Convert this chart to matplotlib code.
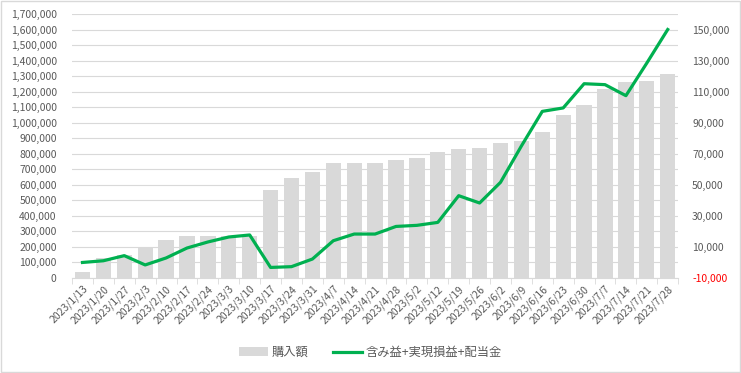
import numpy as np
import matplotlib
matplotlib.use("Agg")
import matplotlib.pyplot as plt
from matplotlib.ticker import FuncFormatter, FixedLocator

plt.rcParams['font.family'] = ['Noto Sans CJK JP', 'DejaVu Sans']

dates = ["2023/1/13", "2023/1/20", "2023/1/27", "2023/2/3", "2023/2/10", "2023/2/17",
         "2023/2/24", "2023/3/3", "2023/3/10", "2023/3/17", "2023/3/24", "2023/3/31",
         "2023/4/7", "2023/4/14", "2023/4/21", "2023/4/28", "2023/5/2", "2023/5/12",
         "2023/5/19", "2023/5/26", "2023/6/2", "2023/6/9", "2023/6/16", "2023/6/23",
         "2023/6/30", "2023/7/7", "2023/7/14", "2023/7/21", "2023/7/28"]

# 購入額 (left axis)
purchase = [40000, 129000, 145000, 200000, 247000, 272000, 272000, 268000, 272000,
            567000, 644000, 683000, 741000, 741000, 738000, 760000, 773000, 811000,
            831000, 839000, 869000, 880000, 940000, 1050000, 1114000, 1217000,
            1262000, 1268000, 1313000]

# 含み益+実現損益+配当金 (right axis)
profit = [0, 1100, 4400, -1600, 2900, 9300, 13200, 16400, 17700, -3200, -2700, 2200,
          14000, 18300, 18300, 23200, 23900, 25800, 43000, 38300, 51600, 75000, 97300,
          99500, 115100, 114500, 107400, 128400, 150000]

label_color = '#595959'
grid_color = '#D9D9D9'

fig = plt.figure(figsize=(7.41, 3.73), dpi=100)
fig.patches.append(plt.Rectangle((0.001, 0.002), 0.997, 0.995, transform=fig.transFigure,
                                 fill=False, edgecolor='#D9D9D9', linewidth=1.0))
ax = fig.add_axes([0.0972, 0.2547, 0.818, 0.7078])

x = np.arange(len(dates))
bars = ax.bar(x, purchase, width=0.73, color='#D9D9D9', zorder=2, label='購入額')
ax.set_xlim(-0.5, len(dates) - 0.5)
ax.set_ylim(0, 1700000)
ax.set_yticks(np.arange(0, 1700001, 100000))
ax.yaxis.set_major_formatter(FuncFormatter(lambda v, p: f"{int(v):,}"))
ax.grid(axis='y', color=grid_color, linewidth=0.8, zorder=0)
ax.set_axisbelow(True)

for s in ['top', 'right', 'left']:
    ax.spines[s].set_visible(False)
ax.spines['bottom'].set_color(grid_color)

ax.set_xticks(x)
ax.set_xticklabels(dates, rotation=45, ha='right', rotation_mode='anchor',
                   fontsize=7.5, color=label_color)
ax.tick_params(axis='x', length=0, pad=4)
ax.xaxis.set_minor_locator(FixedLocator(np.arange(-0.5, len(dates), 1)))
ax.tick_params(axis='x', which='minor', length=4, color=grid_color)
ax.tick_params(axis='y', length=0, labelsize=7.5, labelcolor=label_color, pad=11)

ax2 = ax.twinx()
line, = ax2.plot(x, profit, color='#00B050', linewidth=2.3, zorder=3,
                 label='含み益+実現損益+配当金')
ax2.set_ylim(-10000, 160000)
ax2.set_yticks(np.arange(-10000, 150001, 20000))
ax2.yaxis.set_major_formatter(FuncFormatter(lambda v, p: f"{int(v):,}"))
ax2.tick_params(axis='y', length=0, labelsize=7.5, labelcolor=label_color, pad=10)
for s in ax2.spines.values():
    s.set_visible(False)
for t in ax2.get_yticklabels():
    if t.get_text().startswith('-'):
        t.set_color('red')

fig.legend([bars, line], ['購入額', '含み益+実現損益+配当金'], loc='center',
           bbox_to_anchor=(0.5, 0.055), ncol=2, frameon=False, fontsize=8.8,
           labelcolor=label_color, handlelength=2.4, columnspacing=2.0,
           handletextpad=0.3)

fig.savefig('out.png', dpi=100)
